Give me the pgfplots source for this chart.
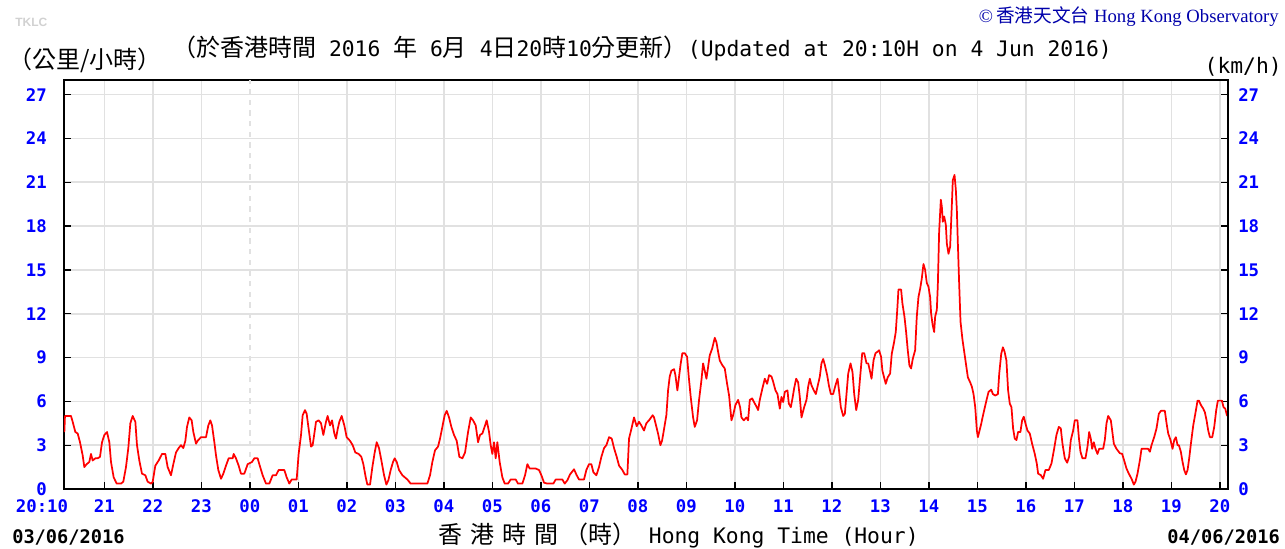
\documentclass[border=0pt]{standalone}
\usepackage{pgfplots}
\pgfplotsset{compat=1.18}
\usepackage{fontspec}
\setmainfont{DejaVu Sans Mono}
\newfontfamily\cjk{Noto Sans CJK TC}
\newfontfamily\mono{DejaVu Sans Mono}
\newfontfamily\tnr{Liberation Serif}
\newfontfamily\arial{Liberation Sans}
\definecolor{gridc}{RGB}{225,225,225}
\definecolor{tickblue}{RGB}{0,0,255}
\definecolor{hkoblue}{RGB}{0,0,170}
\newcommand\C[1]{{\cjk\fontsize{18}{18}\selectfont #1}}
\newcommand\M[1]{{\mono #1}}
\newcommand\tickfont{\mono\bfseries\fontsize{13}{13}\selectfont}
\begin{document}
\begin{tikzpicture}
\useasboundingbox (0pt,0pt) rectangle (963.75pt,411.75pt);
\begin{axis}[at={(48pt,45pt)}, anchor=south west, scale only axis,
  width=873pt, height=306.75pt,
  xmin=0, xmax=24, ymin=0, ymax=28,
  /pgf/number format/assume math mode=true,
  ytick={0,3,...,27},
  xtick={0.8333,1.8333,2.8333,4.8333,5.8333,6.8333,7.8333,8.8333,9.8333,10.8333,11.8333,12.8333,13.8333,14.8333,15.8333,16.8333,17.8333,18.8333,19.8333,20.8333,21.8333,22.8333,23.8333},
  xticklabels={21,22,23,01,02,03,04,05,06,07,08,09,10,11,12,13,14,15,16,17,18,19,20},
  extra x ticks={3.8333}, extra x tick labels={00},
  extra x tick style={grid=major, major grid style={gridc, line width=1.2pt, dash pattern=on 4pt off 4pt}},
  grid=major, major grid style={gridc, line width=1.2pt},
  xtick pos=lower, ytick pos=both, yticklabel pos=left,
  tick align=inside, major tick length=5pt,
  tick style={black, line width=1pt},
  axis line style={black, line width=1.2pt},
  xticklabel style={font=\tickfont, text=tickblue, anchor=base, yshift=-18pt},
  yticklabel style={font=\tickfont, text=tickblue, anchor=east, inner sep=0pt, xshift=-12.75pt},
]
\addplot[red, line width=1.3pt, mark=none, line join=round] coordinates {
(0.007,3.9)(0.02,5.0)(0.144,5.0)(0.179,4.6)(0.234,3.9)(0.282,3.8)(0.33,3.2)(0.385,2.3)(0.419,1.5)(0.467,1.7)(0.522,1.85)(0.557,2.4)(0.591,1.95)(0.646,2.1)(0.694,2.1)(0.742,2.2)(0.784,3.2)(0.832,3.7)(0.887,3.9)(0.935,3.2)(0.969,1.85)(1.024,0.8)(1.086,0.37)(1.175,0.37)(1.223,0.5)(1.278,1.5)(1.326,2.8)(1.368,4.5)(1.416,5.0)(1.471,4.6)(1.505,3.0)(1.553,1.95)(1.608,1.05)(1.677,0.94)(1.725,0.5)(1.794,0.37)(1.828,0.48)(1.883,1.6)(1.952,1.95)(2.021,2.4)(2.089,2.4)(2.137,1.5)(2.206,0.94)(2.254,1.7)(2.309,2.5)(2.364,2.8)(2.412,3.0)(2.46,2.8)(2.502,3.3)(2.536,4.25)(2.584,4.9)(2.632,4.7)(2.667,3.9)(2.722,3.1)(2.756,3.3)(2.825,3.55)(2.928,3.55)(2.976,4.35)(3.017,4.7)(3.052,4.35)(3.1,3.2)(3.134,2.3)(3.182,1.3)(3.237,0.7)(3.285,1.05)(3.34,1.6)(3.395,2.1)(3.478,2.1)(3.498,2.4)(3.546,2.1)(3.601,1.6)(3.649,1.05)(3.718,1.05)(3.787,1.7)(3.876,1.85)(3.924,2.1)(3.993,2.1)(4.027,1.7)(4.096,0.94)(4.165,0.37)(4.234,0.37)(4.302,0.94)(4.371,0.94)(4.426,1.3)(4.543,1.3)(4.591,0.8)(4.646,0.37)(4.694,0.65)(4.797,0.65)(4.838,2.4)(4.887,3.7)(4.921,5.05)(4.969,5.4)(5.003,5.15)(5.045,4.1)(5.093,2.9)(5.127,3.0)(5.162,3.8)(5.196,4.6)(5.251,4.7)(5.299,4.5)(5.347,3.7)(5.402,4.6)(5.436,5.0)(5.485,4.35)(5.526,4.7)(5.574,3.8)(5.608,3.45)(5.643,4.1)(5.677,4.6)(5.725,5.0)(5.78,4.35)(5.828,3.55)(5.897,3.3)(5.952,3.0)(6.007,2.5)(6.076,2.4)
(6.131,2.2)(6.172,1.7)(6.221,0.8)(6.255,0.3)(6.31,0.3)(6.358,1.5)(6.406,2.5)(6.447,3.2)(6.495,2.8)(6.544,1.95)(6.599,0.94)(6.647,0.3)(6.688,0.6)(6.736,1.3)(6.784,1.85)(6.818,2.1)(6.86,1.85)(6.908,1.3)(6.977,0.94)(7.08,0.65)(7.148,0.37)(7.492,0.37)(7.547,0.94)(7.595,1.85)(7.65,2.65)(7.712,2.9)(7.753,3.45)(7.801,4.25)(7.849,5.05)(7.891,5.35)(7.939,4.9)(7.987,4.25)(8.042,3.7)(8.097,3.3)(8.152,2.2)(8.214,2.1)(8.269,2.5)(8.331,3.9)(8.386,4.9)(8.434,4.7)(8.489,4.35)(8.537,3.2)(8.578,3.7)(8.626,3.8)(8.681,4.35)(8.715,4.7)(8.764,3.9)(8.798,3.0)(8.832,2.4)(8.867,3.2)(8.901,2.1)(8.935,3.2)(8.983,1.85)(9.038,0.8)(9.087,0.37)(9.155,0.37)(9.21,0.65)(9.313,0.65)(9.361,0.37)(9.451,0.37)(9.506,0.94)(9.554,1.7)(9.602,1.4)(9.726,1.4)(9.794,1.3)(9.843,0.94)(9.898,0.43)(9.966,0.37)(10.09,0.37)(10.138,0.65)(10.276,0.65)(10.324,0.37)(10.379,0.6)(10.434,1.0)(10.516,1.35)(10.571,0.94)(10.619,0.65)(10.722,0.65)(10.77,1.3)(10.825,1.7)(10.873,1.7)(10.915,1.15)(10.977,0.94)(11.031,1.5)(11.08,2.2)(11.135,2.8)(11.183,3.0)(11.238,3.55)(11.293,3.45)(11.341,2.8)(11.396,2.2)(11.444,1.6)(11.513,1.3)(11.561,1.0)(11.616,1.0)(11.65,3.45)(11.698,4.1)(11.753,4.9)(11.808,4.3)(11.856,4.6)(11.904,4.35)(11.959,4.0)(12.007,4.5)(12.062,4.7)
(12.138,5.05)(12.166,4.9)(12.207,4.35)(12.248,3.8)(12.297,3.0)(12.331,3.3)(12.372,4.1)(12.42,5.05)(12.455,6.75)(12.489,7.7)(12.524,8.1)(12.579,8.2)(12.606,7.8)(12.647,6.75)(12.682,7.7)(12.716,8.6)(12.75,9.3)(12.799,9.3)(12.847,9.05)(12.881,7.7)(12.922,6.3)(12.971,4.9)(13.005,4.25)(13.053,4.7)(13.094,6.1)(13.143,7.45)(13.177,8.6)(13.211,8.1)(13.246,7.55)(13.28,8.35)(13.314,9.15)(13.363,9.6)(13.418,10.35)(13.452,10.05)(13.486,9.4)(13.521,8.8)(13.569,8.5)(13.624,8.25)(13.672,7.2)(13.713,6.4)(13.762,4.7)(13.796,5.05)(13.844,5.75)(13.899,6.1)(13.94,5.6)(13.968,4.9)(14.016,4.7)(14.071,4.9)(14.105,4.7)(14.14,6.1)(14.188,6.2)(14.243,5.85)(14.277,5.65)(14.312,5.4)(14.346,6.1)(14.401,6.9)(14.449,7.55)(14.497,7.2)(14.539,7.8)(14.587,7.7)(14.621,7.35)(14.669,6.75)(14.711,6.5)(14.759,5.5)(14.793,6.3)(14.828,5.95)(14.862,6.65)(14.917,6.75)(14.944,5.85)(14.986,5.6)(15.02,6.2)(15.055,6.9)(15.096,7.55)(15.137,7.3)(15.171,6.3)(15.206,4.9)(15.261,5.6)(15.309,6.1)(15.343,7.0)(15.378,7.55)(15.412,7.1)(15.46,6.75)(15.502,6.5)(15.536,7.0)(15.584,7.7)(15.618,8.6)(15.653,8.9)(15.687,8.5)(15.735,7.8)(15.77,7.1)(15.811,6.5)(15.859,6.5)(15.907,7.1)(15.949,7.55)(15.983,6.65)(16.017,5.6)(16.066,5.0)(16.1,5.15)(16.134,6.5)(16.169,7.9)(16.217,8.6)(16.258,8.0)(16.293,6.5)(16.334,5.4)(16.375,6.1)(16.416,7.7)(16.458,9.3)(16.499,9.3)(16.547,8.6)(16.581,8.6)(16.616,8.1)(16.65,7.55)(16.691,8.8)(16.732,9.3)(16.774,9.4)
(16.805,9.5)(16.847,9.05)(16.874,8.1)(16.916,7.55)(16.943,7.2)(16.984,7.65)(17.033,7.9)(17.067,9.25)(17.115,10.05)(17.15,10.75)(17.184,12.45)(17.205,13.65)(17.26,13.65)(17.287,12.7)(17.329,11.8)(17.363,10.75)(17.397,9.5)(17.432,8.45)(17.466,8.25)(17.5,8.9)(17.549,9.5)(17.583,11.8)(17.618,13.15)(17.652,13.7)(17.686,14.4)(17.721,15.4)(17.755,15.0)(17.79,14.1)(17.824,13.85)(17.858,13.15)(17.879,12.0)(17.907,11.3)(17.941,10.75)(17.962,11.8)(17.996,12.25)(18.017,13.95)(18.044,17.6)(18.079,19.8)(18.099,19.35)(18.12,18.3)(18.148,18.65)(18.182,18.1)(18.203,16.8)(18.237,16.1)(18.271,16.6)(18.306,19.45)(18.326,21.15)(18.361,21.5)(18.388,20.5)(18.409,19.1)(18.43,16.8)(18.457,14.05)(18.485,11.45)(18.526,10.2)(18.567,9.25)(18.595,8.6)(18.636,7.65)(18.684,7.3)(18.719,7.0)(18.753,6.5)(18.788,5.6)(18.822,4.0)(18.843,3.55)(18.877,4.0)(18.911,4.45)(18.939,4.9)(18.98,5.5)(19.029,6.2)(19.063,6.65)(19.118,6.8)(19.152,6.5)(19.201,6.4)(19.256,6.5)(19.283,7.9)(19.324,9.25)(19.359,9.7)(19.393,9.4)
(19.431,8.8)(19.466,6.75)(19.5,5.85)(19.535,5.6)(19.569,4.15)(19.603,3.45)(19.638,3.35)(19.672,3.9)(19.72,3.9)(19.755,4.7)(19.789,4.95)(19.823,4.5)(19.865,4.0)(19.913,3.8)(19.961,3.1)(20.016,2.4)(20.057,1.75)(20.085,1.05)(20.14,0.95)(20.188,0.7)(20.236,1.3)(20.305,1.3)(20.36,1.75)(20.415,2.75)(20.463,3.7)(20.511,4.25)(20.552,4.15)(20.587,3.1)(20.635,2.1)(20.683,1.8)(20.724,2.2)(20.759,3.35)(20.807,4.0)(20.841,4.7)(20.896,4.7)(20.924,3.55)(20.958,2.55)(20.999,2.1)(21.061,2.1)(21.103,2.9)(21.137,3.9)(21.171,3.45)(21.199,2.75)(21.233,3.2)(21.268,2.75)(21.309,2.4)(21.343,2.75)(21.426,2.75)(21.46,3.35)(21.495,4.5)(21.529,5.0)(21.584,4.7)(21.612,4.0)(21.646,3.1)(21.701,2.75)(21.77,2.45)(21.818,2.4)(21.859,1.95)(21.907,1.4)(21.955,1.05)(22.011,0.7)(22.059,0.3)(22.093,0.5)(22.134,1.05)(22.182,1.95)(22.217,2.75)(22.272,2.75)(22.354,2.75)(22.389,2.55)(22.423,3.0)(22.478,3.55)(22.526,4.15)(22.574,5.15)(22.616,5.35)(22.698,5.35)(22.733,4.5)(22.767,3.8)(22.815,3.35)(22.856,2.75)(22.891,3.35)(22.925,3.55)(22.96,3.0)(22.987,3.0)(23.028,2.55)(23.063,1.85)(23.097,1.3)(23.132,1.0)(23.166,1.3)(23.2,2.1)(23.235,3.1)(23.283,4.35)(23.331,5.25)(23.372,6.05)(23.4,6.05)(23.441,5.75)(23.489,5.5)(23.523,5.25)(23.558,4.7)(23.592,4.0)(23.627,3.55)(23.675,3.55)(23.716,4.25)(23.757,5.4)(23.791,6.05)(23.874,6.05)(23.908,5.6)(23.943,5.5)(23.977,5.05)(24.0,5.0)
};
\end{axis}
\begin{axis}[at={(48pt,45pt)}, anchor=south west, scale only axis,
  width=873pt, height=306.75pt,
  xmin=0, xmax=24, ymin=0, ymax=28,
  /pgf/number format/assume math mode=true,
  hide x axis, axis y line*=right,
  ytick={0,3,...,27}, major tick length=0pt,
  axis line style={black, line width=1.2pt},
  yticklabel style={font=\tickfont, text=tickblue, anchor=west, inner sep=0pt, xshift=7.5pt},
]
\addplot[draw=none] coordinates {(0,0)};
\end{axis}
% 20:10 start label
\node[anchor=base, font=\tickfont, text=tickblue] at (31.5pt,27pt) {20:10};
% titles
\node[anchor=base, inner sep=0pt, font=\fontsize{16}{16}\selectfont] at (481.5pt,369pt)
 {\C{（於香港時間}\M{ 2016 }\C{年}\M{ 6}\C{月}\M{ 4}\C{日}\M{20}\C{時}\M{10}\C{分更新）}\M{(Updated at 20:10H on 4 Jun 2016)}};
\node[anchor=base west, inner sep=0pt] at (6pt,360pt) {\C{（公里/小時）}};
\node[anchor=base east, inner sep=0pt, font=\fontsize{16}{16}\selectfont] at (961.5pt,356.25pt) {\M{(km/h)}};
\node[anchor=base west, inner sep=0pt, font=\arial\bfseries\fontsize{9}{9}\selectfont, text=black!18] at (11.25pt,391.5pt) {TKLC};
\node[anchor=base east, inner sep=0pt, font=\fontsize{14}{14}\selectfont, text=hkoblue] at (959.25pt,394.5pt) {\tnr ©\,{\cjk 香港天文台} Hong Kong Observatory};
\node[anchor=base west, inner sep=0pt, font=\mono\bfseries\fontsize{14}{14}\selectfont] at (9pt,3.75pt) {03/06/2016};
\node[anchor=base east, inner sep=0pt, font=\mono\bfseries\fontsize{14}{14}\selectfont] at (960pt,3.75pt) {04/06/2016};
\node[anchor=base, inner sep=0pt, font=\fontsize{16}{16}\selectfont] at (509pt,3.75pt) {\C{香\,\,港\,\,時\,\,間 （時）}\M{ Hong Kong Time (Hour)}};
\end{tikzpicture}
\end{document}
